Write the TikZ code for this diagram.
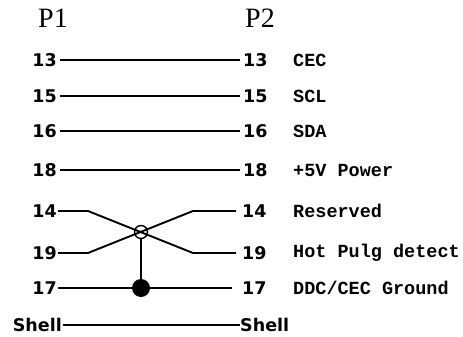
\documentclass[tikz,border=0pt]{standalone}
\usepackage{fontspec}
\newfontfamily\pinfont{DejaVu Sans}
\newfontfamily\sigfont{Liberation Mono}
\newfontfamily\headfont{Liberation Serif}
\tikzset{
  pin/.style={font=\pinfont\bfseries\fontsize{17.5}{17.5}\selectfont, inner sep=3pt},
  sig/.style={font=\sigfont\bfseries\fontsize{18.5}{18.5}\selectfont, anchor=west, inner sep=0pt},
  head/.style={font=\headfont\fontsize{28}{28}\selectfont},
  wire/.style={line width=1.9pt}
}
\begin{document}
\begin{tikzpicture}[x=1pt,y=-1pt]
      \useasboundingbox (0,0) rectangle (463,337);
      \draw
        (53,18) node[head] (P1){P1}
        (260,18) node[head] (P2){P2}
        (60,60) node[pin,anchor=east] (l13){13}
        (60,96) node[pin,anchor=east] (l15){15}
        (60,131) node[pin,anchor=east] (l16){16}
        (60,170) node[pin,anchor=east] (l18){18}
        (58,211) node[pin,anchor=east,inner sep=1pt] (l14){14}
        (58,253) node[pin,anchor=east,inner sep=1pt] (l19){19}
        (58,288) node[pin,anchor=east,inner sep=1pt] (l17){17}
        (63,325) node[pin,anchor=east,inner sep=1pt] (lsh){Shell}
        (240,60) node[pin,anchor=west] (r13){13}
        (240,96) node[pin,anchor=west] (r15){15}
        (240,131) node[pin,anchor=west] (r16){16}
        (240,170) node[pin,anchor=west] (r18){18}
        (236,211) node[pin,anchor=west,inner sep=6pt] (r14){14}
        (236,253) node[pin,anchor=west,inner sep=6pt] (r19){19}
        (232,288) node[pin,anchor=west,inner sep=10pt] (r17){17}
        (240,325) node[pin,anchor=west,inner sep=0pt] (rsh){Shell}
        (293,60) node[sig] (s13){CEC}
        (293,96) node[sig] (s15){SCL}
        (293,131) node[sig] (s16){SDA}
        (293,170) node[sig] (s18){+5V Power}
        (293,211) node[sig] (s14){Reserved}
        (293,253) node[sig] (s19){Hot Pulg detect}
        (293,288) node[sig] (s17){DDC/CEC Ground}
        (141,232) node[circle,draw,line width=1.4pt,minimum size=13pt,inner sep=0pt] (x){}
        (141,288) node[circle,fill,minimum size=18pt,inner sep=0pt] (g){};
      \coordinate (a14) at (88,211);
      \coordinate (a19) at (88,253);
      \coordinate (b14) at (193,211);
      \coordinate (b19) at (193,253);
      \begin{scope}[wire]
        \draw (l13) to (r13);
        \draw (l15) to (r15);
        \draw (l16) to (r16);
        \draw (l18) to (r18);
        \draw (l14) -- (a14) -- (b19) -- (r19);
        \draw (l19) -- (a19) -- (b14) -- (r14);
        \draw (l17) to (r17);
        \draw (lsh) to (rsh);
        \draw (x.south) to (g);
      \end{scope}
    \end{tikzpicture}
\end{document}
